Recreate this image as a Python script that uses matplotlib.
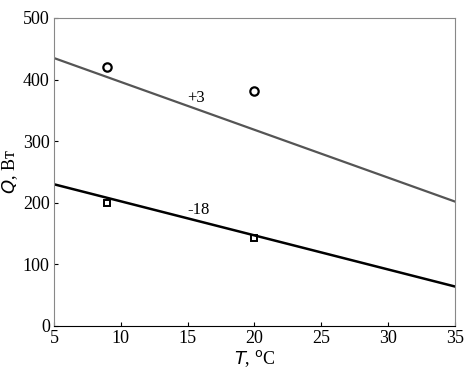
import matplotlib

matplotlib.use("Agg")
import matplotlib.pyplot as plt

# fitted lines (end points at T=5 and T=35)
line_t = [5, 35]
line_plus3 = [435, 202]
line_minus18 = [230, 64]

# measured points
pts_t = [9, 20]
pts_plus3 = [420, 382]
pts_minus18 = [200, 143]

plt.rcParams["font.family"] = ["Liberation Serif", "DejaVu Serif"]

fig = plt.figure(figsize=(4.65, 3.75), dpi=100)
ax = fig.add_axes([0.116, 0.131, 0.862, 0.821])

ax.plot(line_t, line_plus3, color="#555555", linewidth=1.6)
ax.plot(line_t, line_minus18, color="black", linewidth=1.8)
ax.plot(pts_t, pts_plus3, linestyle="none", marker="o", markersize=6,
        markerfacecolor="none", markeredgecolor="black", markeredgewidth=1.6)
ax.plot(pts_t, pts_minus18, linestyle="none", marker="s", markersize=5,
        markerfacecolor="none", markeredgecolor="black", markeredgewidth=1.4)

ax.text(15.0, 370, "+3", fontsize=12, va="center")
ax.text(15.0, 188, "-18", fontsize=12, va="center")

ax.set_xlim(5, 35)
ax.set_ylim(0, 500)
ax.set_xticks([5, 10, 15, 20, 25, 30, 35])
ax.set_yticks([0, 100, 200, 300, 400, 500])
ax.tick_params(direction="in", labelsize=13, length=3, pad=3)
for s in ax.spines.values():
    s.set_color("#888888")
ax.spines["bottom"].set_color("black")

ax.set_xlabel(r"$T$, $^{\rm o}$C", fontsize=13, labelpad=1)
ax.set_ylabel(r"$Q$, Вт", fontsize=13, labelpad=2)

fig.savefig("out.png", dpi=100)
